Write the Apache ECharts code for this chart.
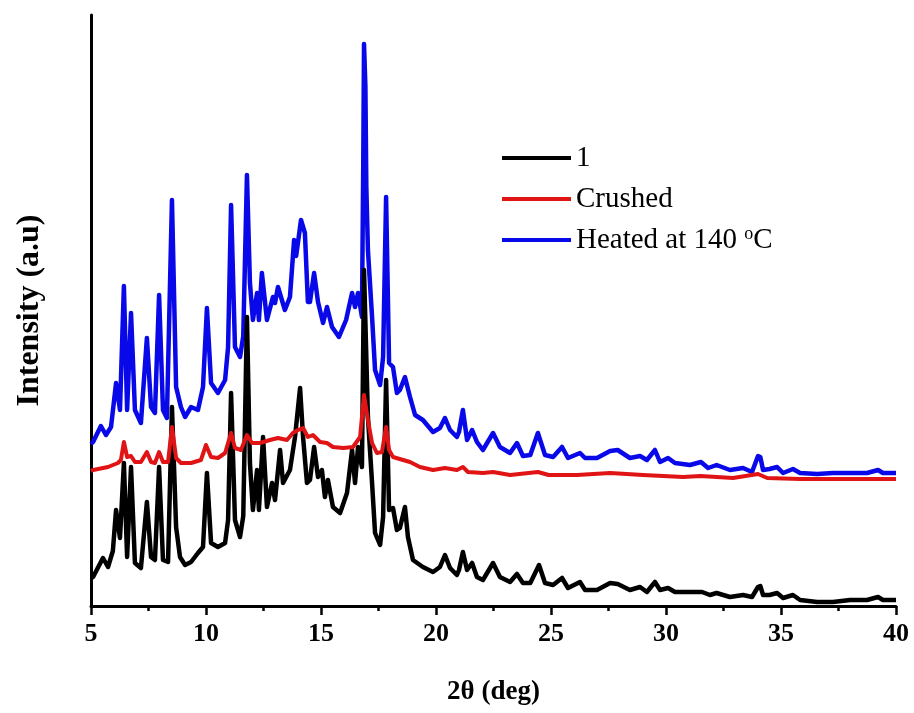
<!DOCTYPE html>
<html>
<head>
<meta charset="utf-8">
<script src="https://cdn.jsdelivr.net/npm/echarts@6/dist/echarts.min.js"></script>
<style>html,body{margin:0;padding:0;background:#fff}#c{width:914px;height:713px}</style>
</head>
<body>
<div id="c"></div>
<script>
// Series names
var seriesNames = ['1', 'Crushed', 'Heated at 140 \u00B0C'];
// X-axis tick values (2θ in degrees)
var xTicks = [5, 10, 15, 20, 25, 30, 35, 40];

// Sample "1" : [2θ, intensity (a.u.)]
var data1 = [[5.0,28],[5.09,29],[5.52,48],[5.74,39],[5.95,55],[6.09,96],[6.26,68],[6.43,143],[6.57,49],[6.74,139],[6.91,43],[7.17,38],[7.43,104],[7.61,49],[7.78,46],[7.96,139],[8.13,46],[8.35,44],[8.52,199],[8.70,79],[8.87,49],[9.09,41],[9.35,44],[9.65,53],[9.87,59],[10.04,133],[10.22,63],[10.52,59],[10.83,63],[10.96,86],[11.09,213],[11.26,86],[11.48,69],[11.62,90],[11.78,289],[11.91,143],[12.04,96],[12.22,136],[12.30,96],[12.48,169],[12.65,99],[12.87,123],[13.0,106],[13.22,156],[13.35,123],[13.65,136],[13.87,169],[14.09,218],[14.22,169],[14.39,123],[14.52,126],[14.70,159],[14.87,129],[15.04,136],[15.17,109],[15.30,126],[15.52,99],[15.83,93],[16.13,113],[16.35,156],[16.48,123],[16.61,159],[16.78,139],[16.87,336],[17.04,189],[17.22,123],[17.35,73],[17.57,61],[17.70,89],[17.83,226],[17.96,96],[18.13,98],[18.30,76],[18.43,78],[18.65,99],[18.78,69],[19.0,46],[19.43,39],[19.87,34],[20.17,39],[20.39,51],[20.61,38],[20.91,31],[21.0,36],[21.17,54],[21.35,36],[21.57,43],[21.78,29],[22.04,26],[22.48,43],[22.78,29],[23.22,24],[23.52,32],[23.78,23],[24.1,23],[24.48,41],[24.74,23],[25.09,21],[25.48,28],[25.74,18],[26.26,24],[26.48,16],[27.0,16],[27.57,23],[27.9,22],[28.43,16],[28.87,19],[29.17,14],[29.52,24],[29.74,16],[30.09,18],[30.39,14],[31.04,14],[31.57,14],[31.91,11],[32.2,13],[32.78,9],[33.35,11],[33.74,9],[34.0,19],[34.1,20],[34.22,11],[34.5,11],[34.83,13],[35.09,8],[35.52,11],[35.83,6],[36.57,4],[37.26,4],[38.0,6],[38.74,6],[39.22,9],[39.43,6],[40,6]];

// Sample "Crushed"
var dataCrushed = [[5.0,135],[5.09,136],[5.74,139],[6.17,143],[6.30,146],[6.43,164],[6.57,149],[6.74,150],[6.91,144],[7.17,144],[7.43,154],[7.61,144],[7.78,143],[7.96,154],[8.13,144],[8.35,144],[8.52,179],[8.70,148],[8.91,143],[9.35,143],[9.78,146],[10.0,161],[10.22,149],[10.52,148],[10.83,153],[11.09,173],[11.26,158],[11.52,156],[11.78,171],[12.0,163],[12.35,163],[12.78,166],[13.13,168],[13.52,166],[13.78,173],[14.0,176],[14.22,178],[14.43,169],[14.65,171],[14.96,164],[15.26,163],[15.52,159],[15.96,158],[16.39,159],[16.70,169],[16.87,211],[17.04,186],[17.22,163],[17.43,153],[17.65,154],[17.83,179],[17.96,156],[18.13,149],[18.57,146],[18.87,144],[19.30,139],[19.87,136],[20.39,138],[20.91,136],[21.17,139],[21.39,134],[22.04,133],[22.48,134],[23.22,131],[24.43,134],[24.9,131],[26.13,131],[27.57,133],[29.0,131],[30.74,129],[31.5,130],[32.91,128],[34.0,132],[34.4,128],[35.83,127],[38.0,127],[40,127]];

// Sample "Heated at 140 °C"
var dataHeated = [[5.0,162],[5.09,164],[5.43,180],[5.65,171],[5.87,179],[6.09,223],[6.26,196],[6.43,320],[6.57,196],[6.74,293],[6.91,196],[7.17,183],[7.43,268],[7.61,199],[7.78,193],[7.96,311],[8.13,196],[8.30,188],[8.52,406],[8.70,219],[8.91,199],[9.09,189],[9.35,199],[9.65,196],[9.87,219],[10.04,298],[10.22,223],[10.52,213],[10.83,226],[10.96,259],[11.09,401],[11.26,259],[11.48,249],[11.62,270],[11.78,431],[11.91,323],[12.04,286],[12.22,313],[12.30,286],[12.43,333],[12.65,286],[12.91,309],[13.0,303],[13.13,319],[13.43,296],[13.65,309],[13.83,366],[13.92,350],[14.13,386],[14.30,373],[14.43,304],[14.52,304],[14.70,333],[14.87,304],[15.09,283],[15.26,299],[15.48,279],[15.78,269],[16.09,286],[16.35,313],[16.48,299],[16.61,313],[16.78,289],[16.84,450],[16.87,562],[16.93,520],[16.97,420],[17.04,356],[17.22,289],[17.35,236],[17.57,221],[17.70,249],[17.83,409],[17.96,243],[18.13,239],[18.30,213],[18.43,216],[18.65,229],[18.87,209],[19.09,191],[19.43,186],[19.87,174],[20.17,178],[20.39,188],[20.61,176],[20.91,169],[21.0,174],[21.17,196],[21.35,166],[21.57,176],[21.78,164],[22.04,156],[22.48,173],[22.78,159],[23.22,153],[23.52,163],[23.78,150],[24.1,151],[24.43,173],[24.74,151],[25.09,149],[25.48,159],[25.74,148],[26.26,153],[26.48,148],[27.0,148],[27.57,155],[27.9,156],[28.43,148],[28.87,150],[29.17,146],[29.52,156],[29.74,144],[30.09,148],[30.39,143],[31.04,141],[31.52,144],[31.83,138],[32.2,141],[32.78,136],[33.35,138],[33.74,134],[34.0,150],[34.1,149],[34.22,136],[34.5,137],[34.83,139],[35.09,133],[35.52,137],[35.83,133],[36.57,132],[37.26,133],[38.0,133],[38.74,133],[39.22,136],[39.43,133],[40,133]];

var serif = "'Liberation Serif', 'Times New Roman', serif";
var chart = echarts.init(document.getElementById('c'), null, {renderer: 'canvas'});
chart.setOption({
  animation: false,
  backgroundColor: '#ffffff',
  grid: {left: 91, right: 18, top: 15, bottom: 107},
  legend: {
    orient: 'vertical',
    left: 502,
    top: 143,
    padding: 0,
    itemGap: 11,
    itemWidth: 69,
    itemHeight: 4,
    icon: 'rect',
    data: seriesNames,
    formatter: function (name) {
      return name === seriesNames[2] ? 'Heated at 140 {sup|o}C' : name;
    },
    textStyle: {
      fontFamily: serif,
      fontSize: 29,
      lineHeight: 30,
      color: '#000',
      rich: {
        sup: {fontFamily: serif, fontSize: 18, verticalAlign: 'top', lineHeight: 30, color: '#000'}
      }
    }
  },
  xAxis: {
    type: 'value',
    min: xTicks[0],
    max: xTicks[xTicks.length - 1],
    interval: 5,
    name: '2\u03B8 (deg)',
    nameLocation: 'middle',
    nameGap: 73,
    nameTextStyle: {fontFamily: serif, fontWeight: 'bold', fontSize: 27, color: '#000'},
    axisLine: {show: true, onZero: false, lineStyle: {color: '#000', width: 3}},
    axisTick: {show: true, inside: false, length: 9, lineStyle: {color: '#000', width: 2.5}},
    minorTick: {show: true, splitNumber: 2, length: 5, lineStyle: {color: '#000', width: 2.5}},
    splitLine: {show: false},
    axisLabel: {fontFamily: serif, fontWeight: 'bold', fontSize: 26, color: '#000', margin: 15}
  },
  yAxis: {
    type: 'value',
    min: 0,
    max: 591,
    name: 'Intensity (a.u)',
    nameLocation: 'middle',
    nameGap: 45,
    nameTextStyle: {fontFamily: serif, fontWeight: 'bold', fontSize: 32, color: '#000'},
    axisLine: {show: true, onZero: false, lineStyle: {color: '#000', width: 3}},
    axisTick: {show: false},
    axisLabel: {show: false},
    splitLine: {show: false}
  },
  series: [
    {name: seriesNames[0], type: 'line', data: data1, showSymbol: false, symbol: 'none', z: 3,
     lineStyle: {color: '#000000', width: 4.5, join: 'round'}, itemStyle: {color: '#000000'}},
    {name: seriesNames[1], type: 'line', data: dataCrushed, showSymbol: false, symbol: 'none', z: 4,
     lineStyle: {color: '#e01414', width: 4, join: 'round'}, itemStyle: {color: '#e01414'}},
    {name: seriesNames[2], type: 'line', data: dataHeated, showSymbol: false, symbol: 'none', z: 2,
     lineStyle: {color: '#0808e8', width: 4.5, join: 'round'}, itemStyle: {color: '#0808e8'}}
  ]
});
</script>
</body>
</html>
